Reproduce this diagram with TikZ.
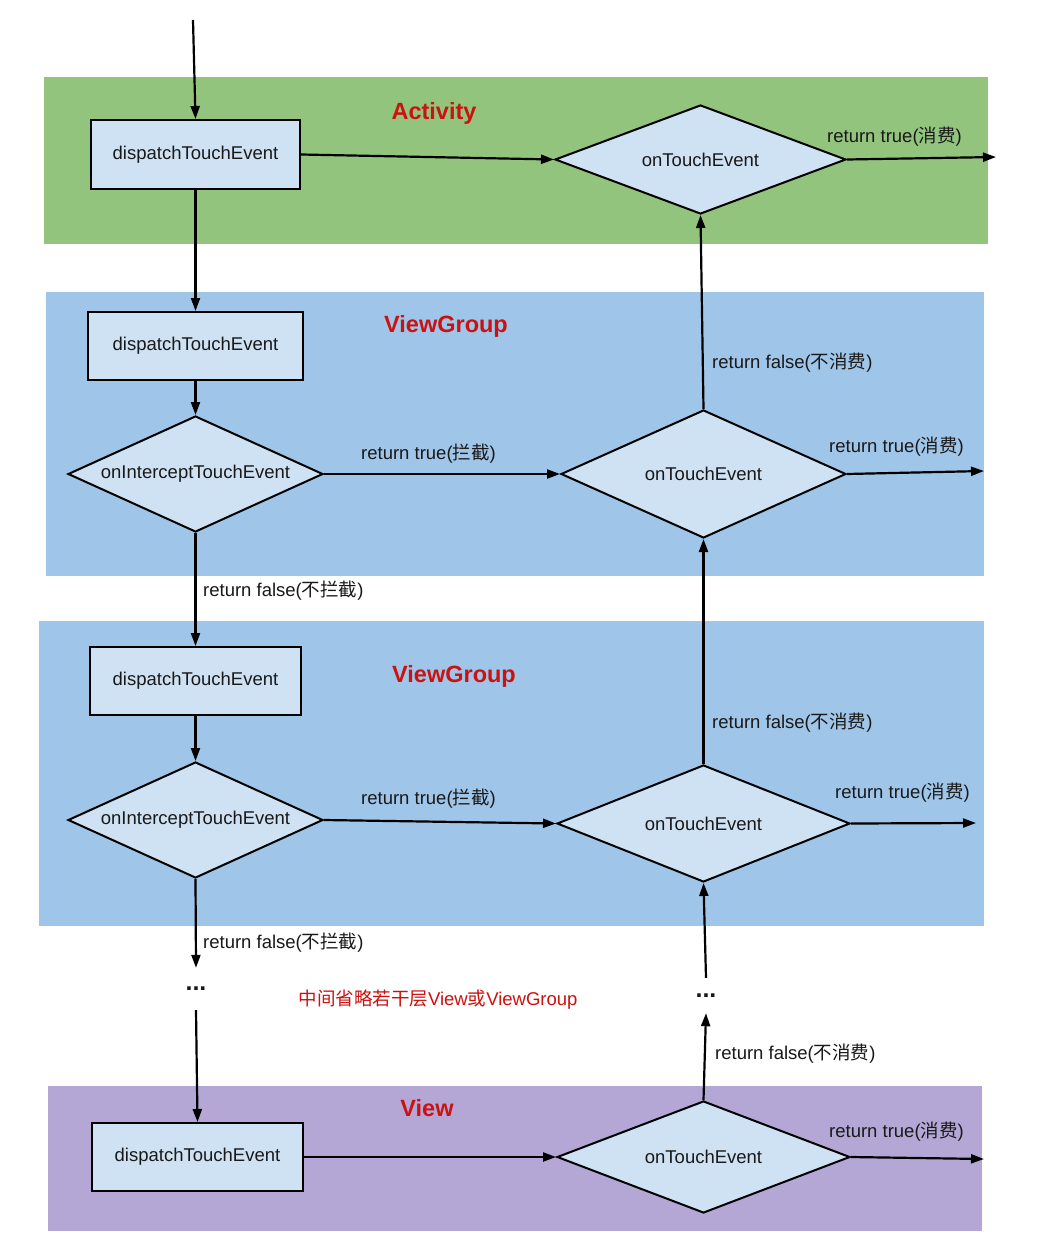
\documentclass[tikz,border=0pt]{standalone}
\usepackage{fontspec}
\setmainfont{Liberation Sans}
\newfontfamily\cjk{Noto Sans CJK SC}
\usetikzlibrary{shapes.geometric,arrows.meta}
\definecolor{actgreen}{HTML}{93C47D}
\definecolor{grpblue}{HTML}{9FC5E8}
\definecolor{viewpurple}{HTML}{B4A7D6}
\definecolor{boxblue}{HTML}{CFE2F3}
\definecolor{titlered}{HTML}{CC1111}
\newcommand\zh[1]{{\cjk #1}}
\begin{document}
\begin{tikzpicture}[x=1pt,y=-1pt,
  every node/.style={font=\fontsize{18.5}{22}\selectfont, text=black!90},
  boxnode/.style={draw=black, fill=boxblue, line width=2pt, inner sep=0pt, rectangle},
  dianode/.style={draw=black, fill=boxblue, line width=2pt, inner sep=0pt, diamond, aspect=2.5},
  arr/.style={line width=2.2pt, -{Triangle[length=13pt,width=9pt]}},
  title/.style={font=\fontsize{23.5}{28}\selectfont\bfseries, text=titlered},
  lbl/.style={inner sep=0pt},
  dotsnode/.style={inner sep=0pt, minimum width=24pt, font=\fontsize{25}{28}\selectfont\bfseries}
]
\useasboundingbox (0,0) rectangle (1036,1244);
\fill[white] (0,0) rectangle (1036,1244);
% panels
\fill[actgreen] (44,77) rectangle (988,244);
\fill[grpblue] (46,292) rectangle (984,576);
\fill[grpblue] (39,621) rectangle (984,926);
\fill[viewpurple] (48,1086) rectangle (982,1231);
% titles
\node[title] (tact) at (434,113) {Activity};
\node[title] (tvg1) at (446,326) {ViewGroup};
\node[title] (tvg2) at (454,676) {ViewGroup};
\node[title] (tview) at (427,1108) {View};
% nodes
\node[boxnode, minimum width=209pt, minimum height=69pt] (ad) at (195.5,154.5) {dispatchTouchEvent};
\node[dianode, minimum width=291pt, minimum height=109pt] (at) at (700.5,159.5) {onTouchEvent};
\node[boxnode, minimum width=215pt, minimum height=68pt] (gd1) at (195.5,346) {dispatchTouchEvent};
\node[dianode, minimum width=255pt, minimum height=116pt] (gi1) at (195.5,474) {onInterceptTouchEvent};
\node[dianode, minimum width=285pt, minimum height=128pt] (gt1) at (703.5,474) {onTouchEvent};
\node[boxnode, minimum width=211pt, minimum height=68pt] (gd2) at (195.5,681) {dispatchTouchEvent};
\node[dianode, minimum width=255pt, minimum height=116pt] (gi2) at (195.5,820) {onInterceptTouchEvent};
\node[dianode, minimum width=293pt, minimum height=117pt] (gt2) at (703.5,823.5) {onTouchEvent};
\node[boxnode, minimum width=211pt, minimum height=68pt] (vd) at (197.5,1157) {dispatchTouchEvent};
\node[dianode, minimum width=293pt, minimum height=112pt] (vt) at (703.5,1157) {onTouchEvent};
\node[dotsnode, minimum height=42pt] (dots1) at (196,989) {...};
\node[dotsnode, minimum height=35pt] (dots2) at (706,995.5) {...};
\node[text=titlered] (mid) at (438,1000) {\zh{中间省略若干层}View\zh{或}ViewGroup};
% free ends
\coordinate (start) at (193,20);
\coordinate (aend) at (996,157);
\coordinate (g1end) at (984,471);
\coordinate (g2end) at (976,823);
\coordinate (vend) at (984,1159);
% connectors
\draw[arr] (start) -- (ad.north);
\draw[arr] (ad.east) -- (at.west);
\draw[arr] (at.east) -- (aend);
\draw[arr] (ad.south) -- (gd1.north);
\draw[arr] (gd1.south) -- (gi1.north);
\draw[arr] (gi1.east) -- (gt1.west);
\draw[arr] (gt1.east) -- (g1end);
\draw[arr] (gt1.north) -- (at.south);
\draw[arr] (gi1.south) -- (gd2.north);
\draw[arr] (gd2.south) -- (gi2.north);
\draw[arr] (gi2.east) -- (gt2.west);
\draw[arr] (gt2.east) -- (g2end);
\draw[arr] (gt2.north) -- (gt1.south);
\draw[arr] (gi2.south) -- (dots1.north);
\draw[arr] (dots1.south) -- (vd.north);
\draw[arr] (dots2.north) -- (gt2.south);
\draw[arr] (vt.north) -- (dots2.south);
\draw[arr] (vd.east) -- (vt.west);
\draw[arr] (vt.east) -- (vend);
% labels
\node[lbl, anchor=west] (l1) at (827,137) {return true(\zh{消费})};
\node[lbl, anchor=west] (l2) at (712,363) {return false(\zh{不消费})};
\node[lbl, anchor=west] (l3) at (361,454) {return true(\zh{拦截})};
\node[lbl, anchor=west] (l4) at (829,447) {return true(\zh{消费})};
\node[lbl, anchor=west] (l5) at (203,591) {return false(\zh{不拦截})};
\node[lbl, anchor=west] (l6) at (712,723) {return false(\zh{不消费})};
\node[lbl, anchor=west] (l7) at (361,799) {return true(\zh{拦截})};
\node[lbl, anchor=west] (l8) at (835,793) {return true(\zh{消费})};
\node[lbl, anchor=west] (l9) at (203,943) {return false(\zh{不拦截})};
\node[lbl, anchor=west] (l10) at (715,1054) {return false(\zh{不消费})};
\node[lbl, anchor=west] (l11) at (829,1132) {return true(\zh{消费})};
\end{tikzpicture}
\end{document}
